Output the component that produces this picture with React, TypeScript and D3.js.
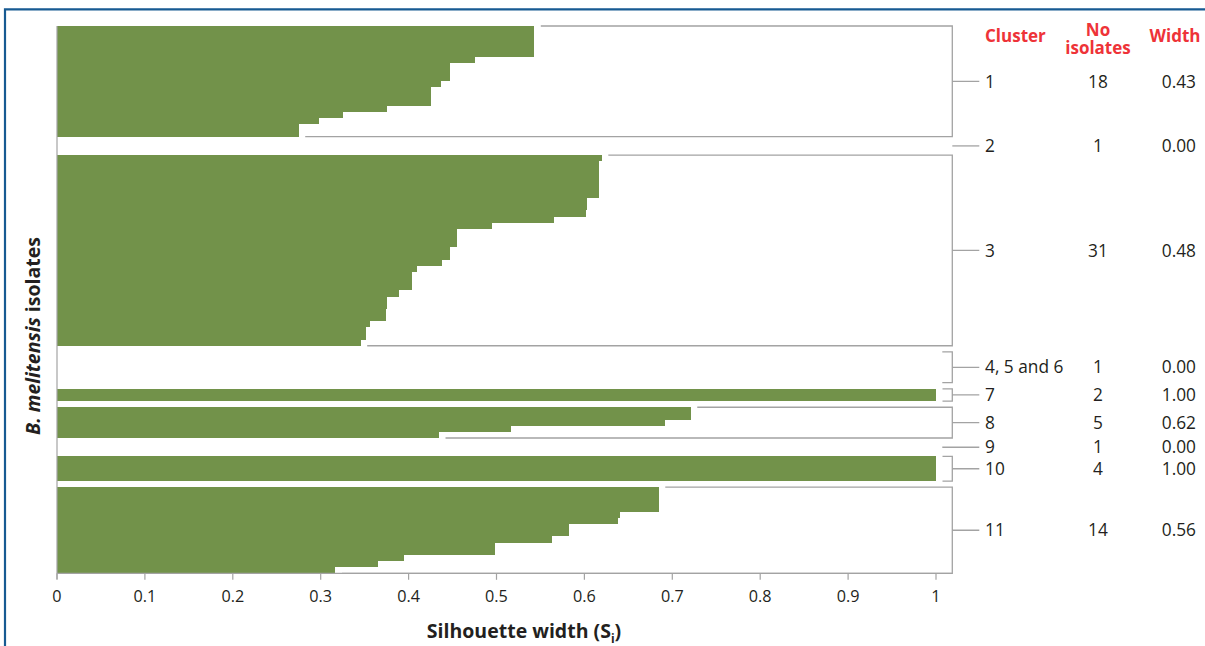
import React from "react";
import * as d3 from "d3";

// ---- data ----
const clusterLabels = ["1", "2", "3", "4, 5 and 6", "7", "8", "9", "10", "11"];
const clusterCounts = ["18", "1", "31", "1", "2", "5", "1", "4", "14"];
const clusterWidths = ["0.43", "0.00", "0.48", "0.00", "1.00", "0.62", "0.00", "1.00", "0.56"];
// number of row slots each cluster occupies on the vertical axis
const clusterSlots = [18, 1, 31, 5, 2, 5, 1, 4, 14];
// how the cluster is marked at the right side
const clusterMarks = ["bracket", "tick", "bracket", "open", "bracket", "bracket", "dash", "bracket", "bracket"];

const sil1 = [0.543, 0.543, 0.543, 0.543, 0.543, 0.4755, 0.4467, 0.4467, 0.4467, 0.4365, 0.426, 0.426, 0.426, 0.375, 0.325, 0.298, 0.275, 0.275];
const sil3 = [0.6198, 0.6163, 0.6163, 0.6163, 0.6163, 0.6163, 0.6163, 0.6033, 0.6033, 0.602, 0.5654, 0.4949, 0.4552, 0.4552, 0.4552, 0.4474, 0.4474, 0.4383, 0.4091, 0.4043, 0.4043, 0.4043, 0.3886, 0.3756, 0.3756, 0.3738, 0.3738, 0.356, 0.3516, 0.3516, 0.3455];
const sil7 = [1.0, 1.0];
const sil8 = [0.721, 0.721, 0.6917, 0.516, 0.4346];
const sil10 = [1.0, 1.0, 1.0, 1.0];
const sil11 = [0.6846, 0.6846, 0.6846, 0.6846, 0.641, 0.6383, 0.582, 0.582, 0.5627, 0.4982, 0.4982, 0.3945, 0.3657, 0.3168];
const clusterValues: number[][] = [sil1, [], sil3, [], sil7, sil8, [], sil10, sil11];

const xTicks = [0, 0.1, 0.2, 0.3, 0.4, 0.5, 0.6, 0.7, 0.8, 0.9, 1];
const xTickLabels = ["0", "0.1", "0.2", "0.3", "0.4", "0.5", "0.6", "0.7", "0.8", "0.9", "1"];

// ---- style ----
const GREEN = "#72924a";
const GRAY = "#a3a3a3";
const RED = "#ee3338";
const BLUE = "#175a92";
const TEXT = "#231f20";
const FONT = "'Open Sans', 'Noto Sans', sans-serif";

export default function App() {
  const W = 1205;
  const H = 646;
  const GAP = 1;
  const totalUnits = d3.sum(clusterSlots) + GAP * (clusterSlots.length - 1);

  const x = d3.scaleLinear().domain([0, 1]).range([57, 936]);
  const y = d3.scaleLinear().domain([0, totalUnits]).range([26, 573.3]);

  const bracketX = 952.3;
  const tickEnd = 979.3;
  const labelX = 985;
  const countX = 1098;
  const widthX = 1196;

  // cumulative start of each cluster
  const starts: number[] = [];
  let acc = 0;
  clusterSlots.forEach((s) => {
    starts.push(acc);
    acc += s + GAP;
  });

  const bars: JSX.Element[] = [];
  const marks: JSX.Element[] = [];
  const labels: JSX.Element[] = [];

  clusterValues.forEach((vals, ci) => {
    const s0 = starts[ci];
    vals.forEach((v, ri) => {
      bars.push(
        <rect
          key={`b${ci}-${ri}`}
          x={x(0)}
          y={y(s0 + ri)}
          width={x(v) - x(0)}
          height={y(s0 + ri + 1) - y(s0 + ri)}
          fill={GREEN}
          shapeRendering="crispEdges"
        />
      );
    });
    const yTop = y(s0);
    const yBot = y(s0 + clusterSlots[ci]);
    const yMid = (yTop + yBot) / 2;
    const kind = clusterMarks[ci];
    const lineProps = { stroke: GRAY, strokeWidth: 1.3, fill: "none" };
    if (kind === "bracket" || kind === "open") {
      const xa = kind === "open" ? x(1) + 6.3 : x(vals[0]) + 6.5;
      const xb = kind === "open" ? x(1) + 6.3 : x(vals[vals.length - 1]) + 6.5;
      marks.push(
        <path
          key={`m${ci}`}
          d={`M${xa},${yTop}H${bracketX}V${yBot}H${xb}M${bracketX},${yMid}H${tickEnd}`}
          {...lineProps}
        />
      );
    } else if (kind === "tick") {
      marks.push(<path key={`m${ci}`} d={`M${bracketX},${yMid}H${tickEnd}`} {...lineProps} />);
    } else {
      marks.push(<path key={`m${ci}`} d={`M${x(1) + 6.3},${yMid}H${tickEnd}`} {...lineProps} />);
    }
    const ty = yMid + 6.2;
    labels.push(
      <g key={`l${ci}`} fontFamily={FONT} fontSize={17.3} fill={TEXT}>
        <text x={labelX} y={ty}>{clusterLabels[ci]}</text>
        <text x={countX} y={ty} textAnchor="middle">{clusterCounts[ci]}</text>
        <text x={widthX} y={ty} textAnchor="end">{clusterWidths[ci]}</text>
      </g>
    );
  });

  const axisY = y(totalUnits);

  return (
    <svg
      width={W}
      height={H}
      style={{ position: "absolute", left: 0, top: 0, background: "#fff" }}
    >
      {/* frame */}
      <path d={`M5,${H + 5}V9.3H${W + 5}`} stroke={BLUE} strokeWidth={2.2} fill="none" />

      {bars}
      {marks}

      {/* y axis line */}
      <line x1={x(0)} x2={x(0)} y1={y(0)} y2={axisY + 6} stroke={GRAY} strokeWidth={1.2} />
      {/* x axis */}
      <line x1={x(0)} x2={x(1) + 16} y1={axisY} y2={axisY} stroke={GRAY} strokeWidth={1.2} />
      {xTicks.map((t, i) => (
        <g key={`t${i}`}>
          <line x1={x(t)} x2={x(t)} y1={axisY} y2={axisY + 6.5} stroke={GRAY} strokeWidth={1.2} />
          <text
            x={x(t)}
            y={601.8}
            textAnchor="middle"
            fontFamily={FONT}
            fontSize={16.2}
            fill={TEXT}
          >
            {xTickLabels[i]}
          </text>
        </g>
      ))}

      {/* x axis title */}
      <text x={524} y={638} textAnchor="middle" fontFamily={FONT} fontSize={19.5} fontWeight="bold" fill={TEXT}>
        Silhouette width (S<tspan fontSize={12} dy={5}>i</tspan><tspan dy={-5}>)</tspan>
      </text>

      {/* y axis title */}
      <text
        transform={`translate(40,336) rotate(-90)`}
        textAnchor="middle"
        fontFamily={FONT}
        fontSize={19.5}
        fontWeight="bold"
        fill={TEXT}
      >
        <tspan fontStyle="italic">B. melitensis</tspan> isolates
      </text>

      {/* header */}
      <g fontFamily={FONT} fontSize={17} fontWeight="bold" fill={RED}>
        <text x={labelX} y={42}>Cluster</text>
        <text textAnchor="middle">
          <tspan x={countX} y={36}>No</tspan>
          <tspan x={countX} y={54}>isolates</tspan>
        </text>
        <text x={1175} y={42} textAnchor="middle">Width</text>
      </g>

      {labels}
    </svg>
  );
}
